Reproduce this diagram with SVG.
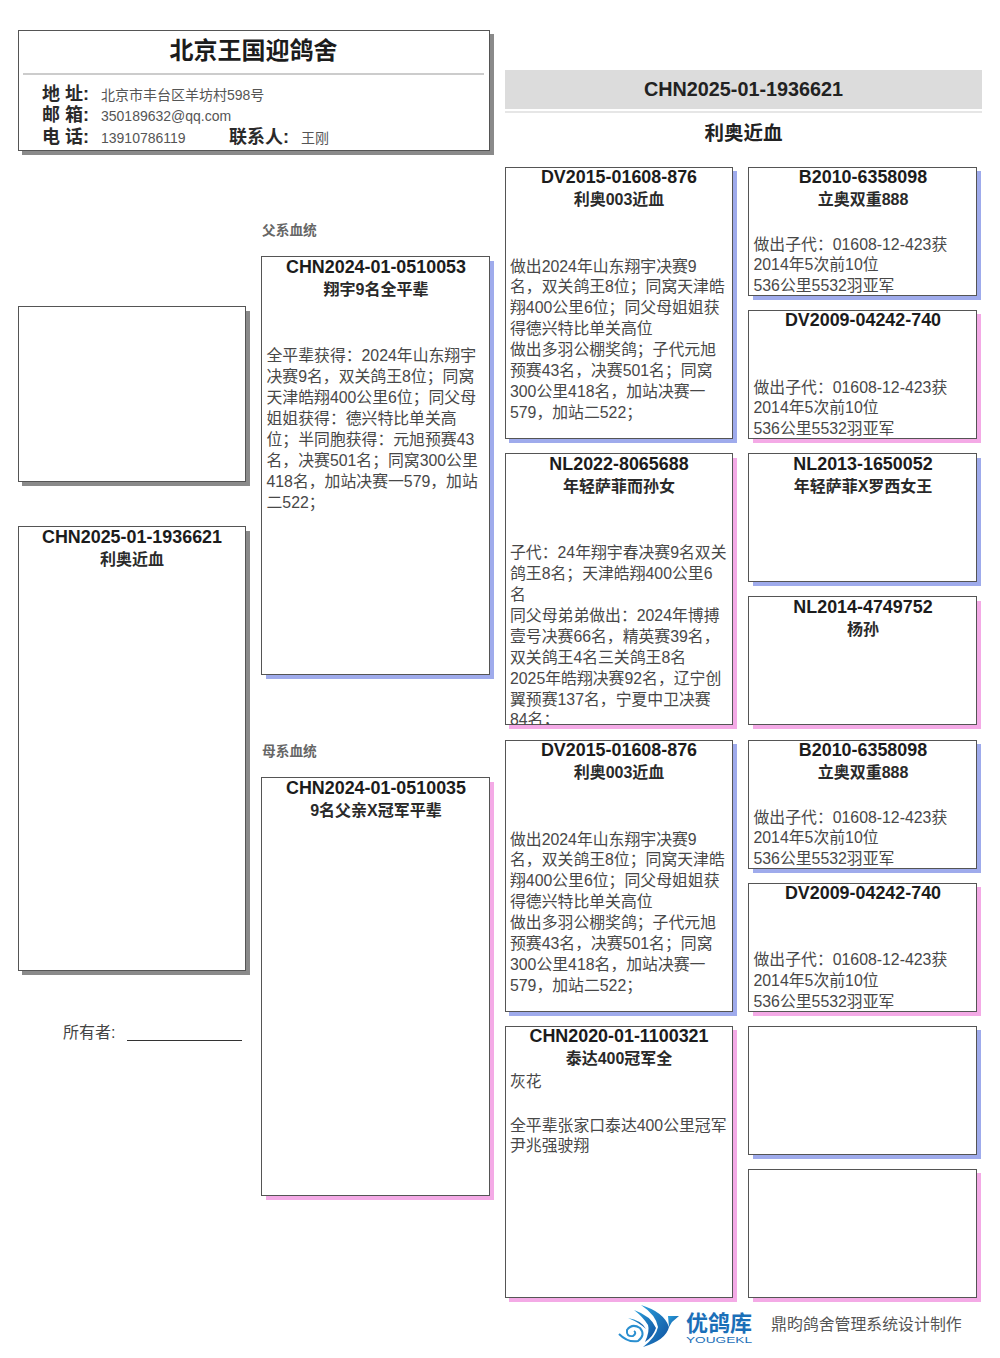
<svg xmlns="http://www.w3.org/2000/svg" width="1000" height="1358" viewBox="0 0 1000 1358">
<style>
text{font-family:"Liberation Sans","Noto Sans CJK SC",sans-serif}
.box{fill:#fff;stroke:#555;stroke-width:1}
.sb{fill:#9fabec}.sp{fill:#f4aae6}.sg{fill:#8a8a8a}
.id{font-size:17.900px;font-weight:bold;fill:#1c1c1c;text-anchor:middle}
.nm{font-size:16px;font-weight:bold;fill:#2a2a2a;text-anchor:middle}
.bd{font-size:15.850px;fill:#484848}
.lb{font-size:18px;font-weight:bold;fill:#2a2a2a}
.inf{font-size:14px;fill:#555}
.sec{font-size:13.700px;font-weight:bold;fill:#666}
</style>
<defs>
<clipPath id="c1"><rect x="505" y="454" width="228" height="271"/></clipPath>
<linearGradient id="lg" x1="0" y1="0" x2="1" y2="1"><stop offset="0" stop-color="#2aa0dc"/><stop offset="1" stop-color="#0f4f9e"/></linearGradient>
</defs>
<rect width="1000" height="1358" fill="#fff"/>

<g id="header">
<rect class="sg" x="22" y="34" width="472" height="121"/>
<rect class="box" x="18.500" y="30.500" width="471" height="120"/>
<text x="253.500" y="59" font-size="24" font-weight="bold" fill="#1c1c1c" text-anchor="middle">北京王国迎鸽舍</text>
<line x1="23" y1="74" x2="484" y2="74" stroke="#999" stroke-width="1.200"/>
<text class="lb" x="42" y="100" xml:space="preserve">地 址:</text>
<text class="inf" x="101" y="100">北京市丰台区羊坊村598号</text>
<text class="lb" x="42" y="121" xml:space="preserve">邮 箱:</text>
<text class="inf" x="101" y="121">350189632@qq.com</text>
<text class="lb" x="42" y="143" xml:space="preserve">电 话:</text>
<text class="inf" x="101" y="143">13910786119</text>
<text class="lb" x="229" y="143">联系人:</text>
<text class="inf" x="301" y="143">王刚</text>
</g>

<g id="title">
<rect x="505" y="70" width="477" height="39" fill="#dcdcdc"/>
<rect x="505" y="111" width="477" height="2" fill="#e6e6e6"/>
<text x="743.500" y="96" font-size="19.800" font-weight="bold" fill="#222" text-anchor="middle">CHN2025-01-1936621</text>
<text x="743.500" y="140" font-size="19.500" font-weight="bold" fill="#222" text-anchor="middle">利奥近血</text>
</g>

<g id="photo-box">
<rect class="sg" x="22" y="311" width="228" height="175"/>
<rect class="box" x="18.500" y="306.500" width="227" height="175"/>
</g>

<g id="subject">
<rect class="sg" x="22" y="531" width="228" height="444"/>
<rect class="box" x="18.500" y="526.500" width="227" height="444"/>
<text class="id" x="132" y="543">CHN2025-01-1936621</text>
<text class="nm" x="132" y="565">利奥近血</text>
</g>

<g id="owner">
<text x="63" y="1038" font-size="16px" fill="#444">所有者:</text>
<line x1="127" y1="1040.500" x2="242" y2="1040.500" stroke="#333" stroke-width="1"/>
</g>

<text class="sec" x="262" y="235">父系血统</text>
<text class="sec" x="262" y="756">母系血统</text>

<g id="sire">
<rect class="sb" x="266" y="261" width="228" height="418"/>
<rect class="box" x="261.500" y="256.500" width="228" height="418"/>
<text class="id" x="376" y="273">CHN2024-01-0510053</text>
<text class="nm" x="376" y="295">翔宇9名全平辈</text>
<text class="bd">
<tspan x="266.500" y="361">全平辈获得：2024年山东翔宇</tspan>
<tspan x="266.500" y="382">决赛9名，双关鸽王8位；同窝</tspan>
<tspan x="266.500" y="403">天津皓翔400公里6位；同父母</tspan>
<tspan x="266.500" y="424">姐姐获得：德兴特比单关高</tspan>
<tspan x="266.500" y="445">位；半同胞获得：元旭预赛43</tspan>
<tspan x="266.500" y="466">名，决赛501名；同窝300公里</tspan>
<tspan x="266.500" y="487">418名，加站决赛一579，加站</tspan>
<tspan x="266.500" y="508">二522；</tspan>
</text>
</g>

<g id="dam">
<rect class="sp" x="266" y="782" width="228" height="418"/>
<rect class="box" x="261.500" y="777.500" width="228" height="418"/>
<text class="id" x="376" y="794">CHN2024-01-0510035</text>
<text class="nm" x="376" y="816">9名父亲X冠军平辈</text>
</g>

<g id="gs1">
<rect class="sb" x="509" y="171" width="228" height="272"/>
<rect class="box" x="505.500" y="167.500" width="227" height="271"/>
<text class="id" x="619" y="183">DV2015-01608-876</text>
<text class="nm" x="619" y="205">利奥003近血</text>
<text class="bd">
<tspan x="510" y="272">做出2024年山东翔宇决赛9</tspan>
<tspan x="510" y="292">名，双关鸽王8位；同窝天津皓</tspan>
<tspan x="510" y="313">翔400公里6位；同父母姐姐获</tspan>
<tspan x="510" y="334">得德兴特比单关高位</tspan>
<tspan x="510" y="355">做出多羽公棚奖鸽；子代元旭</tspan>
<tspan x="510" y="376">预赛43名，决赛501名；同窝</tspan>
<tspan x="510" y="397">300公里418名，加站决赛一</tspan>
<tspan x="510" y="418">579，加站二522；</tspan>
</text>
</g>

<g id="gd1">
<rect class="sp" x="509" y="458" width="228" height="271"/>
<rect class="box" x="505.500" y="453.500" width="227" height="271"/>
<text class="id" x="619" y="470">NL2022-8065688</text>
<text class="nm" x="619" y="492">年轻萨菲而孙女</text>
<text class="bd" clip-path="url(#c1)">
<tspan x="510" y="558">子代：24年翔宇春决赛9名双关</tspan>
<tspan x="510" y="579">鸽王8名；天津皓翔400公里6</tspan>
<tspan x="510" y="600">名</tspan>
<tspan x="510" y="621">同父母弟弟做出：2024年博搏</tspan>
<tspan x="510" y="642">壹号决赛66名，精英赛39名，</tspan>
<tspan x="510" y="663">双关鸽王4名三关鸽王8名</tspan>
<tspan x="510" y="684">2025年皓翔决赛92名，辽宁创</tspan>
<tspan x="510" y="705">翼预赛137名，宁夏中卫决赛</tspan>
<tspan x="510" y="725">84名；</tspan>
</text>
</g>

<g id="gs2">
<rect class="sb" x="509" y="744" width="228" height="272"/>
<rect class="box" x="505.500" y="740.500" width="227" height="271"/>
<text class="id" x="619" y="756">DV2015-01608-876</text>
<text class="nm" x="619" y="778">利奥003近血</text>
<text class="bd">
<tspan x="510" y="845">做出2024年山东翔宇决赛9</tspan>
<tspan x="510" y="865">名，双关鸽王8位；同窝天津皓</tspan>
<tspan x="510" y="886">翔400公里6位；同父母姐姐获</tspan>
<tspan x="510" y="907">得德兴特比单关高位</tspan>
<tspan x="510" y="928">做出多羽公棚奖鸽；子代元旭</tspan>
<tspan x="510" y="949">预赛43名，决赛501名；同窝</tspan>
<tspan x="510" y="970">300公里418名，加站决赛一</tspan>
<tspan x="510" y="991">579，加站二522；</tspan>
</text>
</g>

<g id="gd2">
<rect class="sp" x="509" y="1030" width="228" height="272"/>
<rect class="box" x="505.500" y="1026.500" width="227" height="271"/>
<text class="id" x="619" y="1042">CHN2020-01-1100321</text>
<text class="nm" x="619" y="1064">泰达400冠军全</text>
<text class="bd">
<tspan x="510" y="1087">灰花</tspan>
<tspan x="510" y="1131">全平辈张家口泰达400公里冠军</tspan>
<tspan x="510" y="1151">尹兆强驶翔</tspan>
</text>
</g>

<g id="ggs1">
<rect class="sb" x="753" y="171" width="228" height="129"/>
<rect class="box" x="748.500" y="167.500" width="228" height="128"/>
<text class="id" x="863" y="183">B2010-6358098</text>
<text class="nm" x="863" y="205">立奥双重888</text>
<text class="bd"><tspan x="753.500" y="250">做出子代：01608-12-423获</tspan><tspan x="753.500" y="270">2014年5次前10位</tspan><tspan x="753.500" y="291">536公里5532羽亚军</tspan></text>
</g>
<g id="ggd1">
<rect class="sp" x="753" y="314" width="228" height="129"/>
<rect class="box" x="748.500" y="310.500" width="228" height="128"/>
<text class="id" x="863" y="326">DV2009-04242-740</text>
<text class="bd"><tspan x="753.500" y="393">做出子代：01608-12-423获</tspan><tspan x="753.500" y="413">2014年5次前10位</tspan><tspan x="753.500" y="434">536公里5532羽亚军</tspan></text>
</g>
<g id="ggs2">
<rect class="sb" x="753" y="458" width="228" height="128"/>
<rect class="box" x="748.500" y="453.500" width="228" height="128"/>
<text class="id" x="863" y="470">NL2013-1650052</text>
<text class="nm" x="863" y="492">年轻萨菲X罗西女王</text>
</g>
<g id="ggd2">
<rect class="sp" x="753" y="601" width="228" height="128"/>
<rect class="box" x="748.500" y="596.500" width="228" height="128"/>
<text class="id" x="863" y="613">NL2014-4749752</text>
<text class="nm" x="863" y="635">杨孙</text>
</g>
<g id="ggs3">
<rect class="sb" x="753" y="744" width="228" height="129"/>
<rect class="box" x="748.500" y="740.500" width="228" height="128"/>
<text class="id" x="863" y="756">B2010-6358098</text>
<text class="nm" x="863" y="778">立奥双重888</text>
<text class="bd"><tspan x="753.500" y="823">做出子代：01608-12-423获</tspan><tspan x="753.500" y="843">2014年5次前10位</tspan><tspan x="753.500" y="864">536公里5532羽亚军</tspan></text>
</g>
<g id="ggd3">
<rect class="sp" x="753" y="887" width="228" height="129"/>
<rect class="box" x="748.500" y="883.500" width="228" height="128"/>
<text class="id" x="863" y="899">DV2009-04242-740</text>
<text class="bd"><tspan x="753.500" y="965">做出子代：01608-12-423获</tspan><tspan x="753.500" y="986">2014年5次前10位</tspan><tspan x="753.500" y="1007">536公里5532羽亚军</tspan></text>
</g>
<g id="ggs4">
<rect class="sb" x="753" y="1030" width="228" height="129"/>
<rect class="box" x="748.500" y="1026.500" width="228" height="128"/>
</g>
<g id="ggd4">
<rect class="sp" x="753" y="1173" width="228" height="129"/>
<rect class="box" x="748.500" y="1169.500" width="228" height="128"/>
</g>

<g id="connectors"></g>

<g id="footer">
<g fill="url(#lg)">
<path d="M641 1305 Q664 1312 669 1327 Q666 1340 643 1347 Q656 1337 658 1327 Q656 1315 641 1305Z"/>
<path d="M634 1310 Q651 1316 656 1328 Q653 1337 645 1342 Q650 1331 648 1325 Q643 1317 634 1310Z"/>
<path d="M628 1318 Q641 1320 646 1329 Q640 1323 628 1318Z"/>
<path d="M668 1316 L679 1316 L672 1322 L669 1327Z"/>
</g>
<path d="M619 1334 Q628 1343 638 1341 Q646 1335 640 1328 Q632 1323 627 1330 Q626 1337 633 1336 Q637 1333 634 1331" fill="none" stroke="#2a8fd0" stroke-width="2"/>
<text x="686" y="1331" font-size="22px" font-weight="bold" fill="#1b6fb8">优鸽库</text>
<text x="686" y="1343" font-size="9.500px" fill="#1b6fb8" textLength="66" lengthAdjust="spacingAndGlyphs">YOUGEKL</text>
<text x="771" y="1330" font-size="15.900px" fill="#555">鼎昀鸽舍管理系统设计制作</text>
</g>
</svg>
